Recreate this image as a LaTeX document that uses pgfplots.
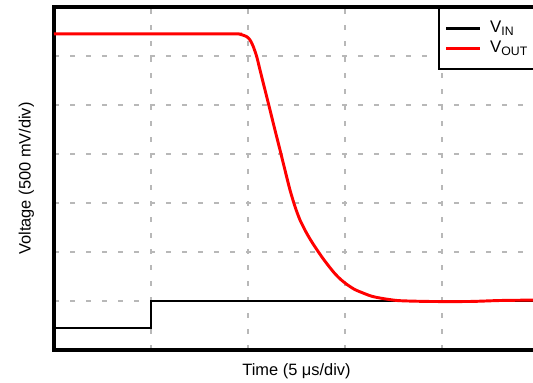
\documentclass[border=0pt]{standalone}
\usepackage{fontspec}
\setmainfont{Liberation Sans}
\usepackage{pgfplots}
\pgfplotsset{compat=1.18}
\newcommand{\sub}[1]{\raisebox{-1.8pt}{\fontsize{9.2}{10}\selectfont #1}}
\begin{document}
\fontsize{12.3}{14.5}\selectfont
\begin{tikzpicture}
\begin{axis}[
  scale only axis, width=363.75pt, height=257.25pt,
  xmin=0, xmax=5, ymin=0, ymax=7,
  xtick={1,2,3,4}, ytick={1,2,3,4,5,6},
  xticklabels={}, yticklabels={},
  major tick length=0pt,
  grid=major,
  major grid style={color=black!28, line width=0.9pt, dash pattern=on 3.75pt off 8.25pt},
  axis line style={line width=2.4pt},
  xlabel={Time (5 μs/div)},
  ylabel={Voltage (500 mV/div)},
  xlabel style={at={(axis description cs:0.5,-0.0758)}, anchor=base},
  ylabel style={at={(axis description cs:-0.0481,0.5)}, anchor=base},
  legend style={at={(axis description cs:0.7918,1)}, anchor=north west,
    draw=black, line width=1.8pt, fill=white,
    inner xsep=4pt, inner ysep=7.9pt, row sep=0pt,
    nodes={inner xsep=3.5pt, inner ysep=1.5pt, text height=9pt, text depth=3pt},
    font=\fontsize{12.6}{14.5}\selectfont},
  legend cell align=left,
  legend image code/.code={\draw[#1] (0pt,0pt) -- (25.5pt,0pt); \path (28.5pt,0pt);},
]
\addplot[black, line width=2pt] coordinates {(0,0.45)(1,0.45)(1,1.0)(5,1.0)};
\addlegendentry{V\sub{IN}}
\addplot[red, line width=2.2pt, smooth, tension=0.4] coordinates {
(0,6.45)(1.814,6.45)(1.918,6.443)(1.987,6.394)(2.021,6.327)(2.055,6.190)
(2.090,5.986)(2.124,5.714)(2.158,5.443)(2.193,5.169)(2.227,4.898)(2.278,4.490)
(2.330,4.082)(2.381,3.673)(2.433,3.265)(2.485,2.924)(2.536,2.653)(2.605,2.382)
(2.673,2.158)(2.776,1.859)(2.880,1.594)(2.95,1.45)(3.018,1.34)(3.10,1.235)
(3.189,1.160)(3.27,1.10)(3.361,1.060)
(3.549,1.008)(3.876,0.99)(4.289,0.99)(4.60,1.01)(5.0,1.02)};
\addlegendentry{V\sub{OUT}}
\end{axis}
\pgfresetboundingbox
\useasboundingbox ([xshift=-40.5pt,yshift=-24.75pt]current axis.south west) rectangle ([xshift=359.25pt,yshift=5.25pt]current axis.north west);
\end{tikzpicture}
\end{document}
